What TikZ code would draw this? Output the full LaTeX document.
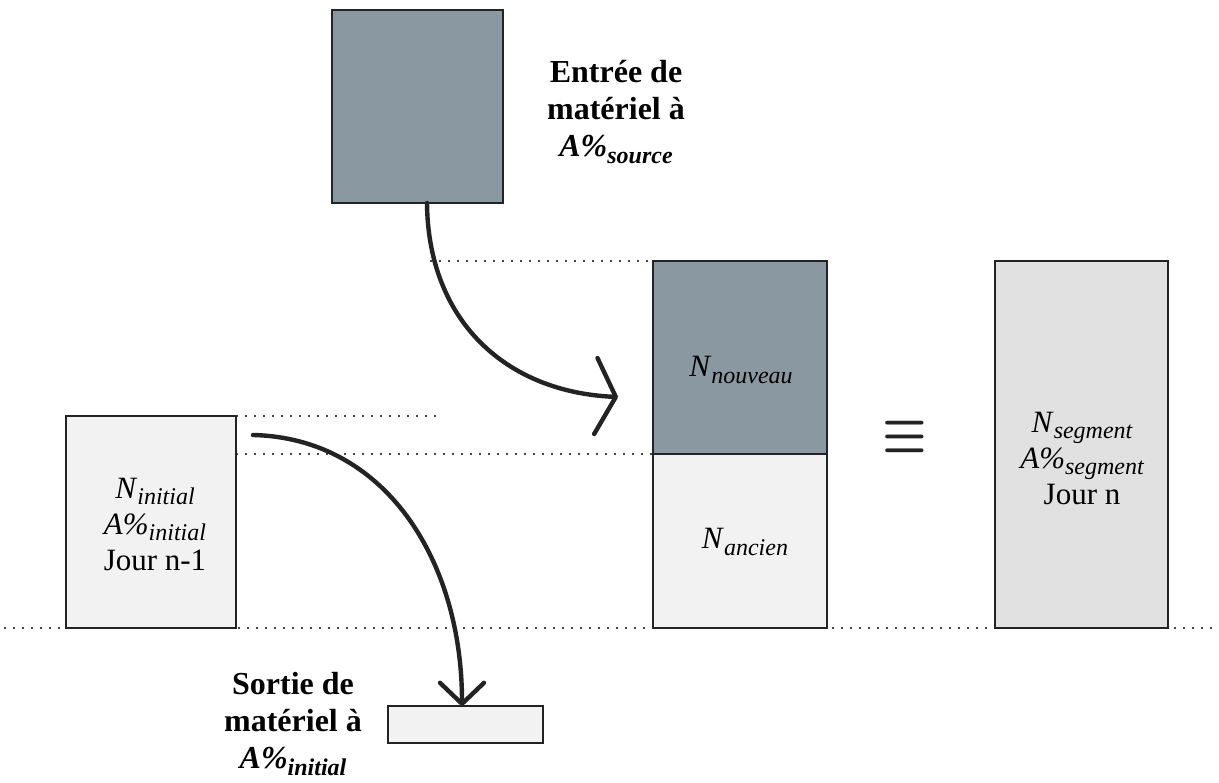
\documentclass[tikz,border=0pt]{standalone}
\usepackage{fontspec}
\setmainfont{Liberation Serif}
\usetikzlibrary{arrows.meta}
\newcommand\mysub[1]{\raisebox{-0.45ex}{\fontsize{12}{12}\selectfont\itshape #1}}
\definecolor{darkfill}{RGB}{138,152,162}
\definecolor{lightfill}{RGB}{242,242,242}
\definecolor{segfill}{RGB}{225,225,225}
\definecolor{ink}{RGB}{35,35,35}
\begin{document}
\begin{tikzpicture}[x=0.5pt,y=-0.5pt,
  box/.style={draw=ink, line width=1.2pt, inner sep=0pt},
  dots/.style={draw=ink!85, line width=1.2pt, dash pattern=on 1.2pt off 3.3pt},
  flow/.style={draw=ink, line width=2.2pt, line cap=round},
  lbl/.style={font=\fontsize{16}{18.5}\selectfont\bfseries, align=center, inner sep=0pt},
  txt/.style={font=\fontsize{15.5}{18}\selectfont, align=center, inner sep=0pt}]
\useasboundingbox (0,0) rectangle (1219,782);
% dotted guide lines
\draw[dots] (430,261) -- (653,261);
\draw[dots] (236,416) -- (440,416);
\draw[dots] (236,454) -- (653,454);
\draw[dots] (4,628) -- (1219,628);
% boxes
\node[box, fill=darkfill, minimum width=85.5pt, minimum height=96.5pt] (src) at (417.5,106.5) {};
\node[box, fill=lightfill, minimum width=85pt, minimum height=106pt] (init) at (151,522) {};
\node[box, fill=darkfill, minimum width=87pt, minimum height=96.5pt] (nouv) at (740,357.5) {};
\node[box, fill=lightfill, minimum width=87pt, minimum height=87pt] (anc) at (740,541) {};
\node[box, fill=segfill, minimum width=86.5pt, minimum height=183.5pt] (seg) at (1081.5,444.5) {};
\node[box, fill=lightfill, minimum width=77.5pt, minimum height=18.5pt] (out) at (465.5,724.5) {};
% labels
\node[lbl] (srclbl) at (616,112) {Entrée de\\matériel à\\\textit{A\%}\mysub{\bfseries source}};
\node[lbl] (outlbl) at (293,724) {Sortie de\\matériel à\\\textit{A\%}\mysub{\bfseries initial}};
\node[txt] (inittxt) at (155,524) {\textit{N}\mysub{initial}\\\textit{A\%}\mysub{initial}\\Jour n-1};
\node[txt] (nouvtxt) at (741,370) {\textit{N}\mysub{nouveau}};
\node[txt] (anctxt) at (745,542) {\textit{N}\mysub{ancien}};
\node[txt] (segtxt) at (1082,458) {\textit{N}\mysub{segment}\\\textit{A\%}\mysub{segment}\\Jour n};
\node[inner sep=0pt, text=ink] (eq) at (905,437) {\scalebox{2.5}[3.1]{\boldmath$\equiv$}};
% connectors
\coordinate (a1s) at (427,203);
\coordinate (a1e) at (618,397);
\coordinate (a2s) at (253,435);
\coordinate (a2e) at (462,706);
\draw[flow, -{Straight Barb[round, length=10pt, width=38pt]}] (a1s) .. controls (428,320) and (505,392) .. (a1e);
\draw[flow, -{Straight Barb[round, length=10.5pt, width=22pt]}] (a2s) .. controls (385,438) and (462,560) .. (a2e);
\end{tikzpicture}
\end{document}
